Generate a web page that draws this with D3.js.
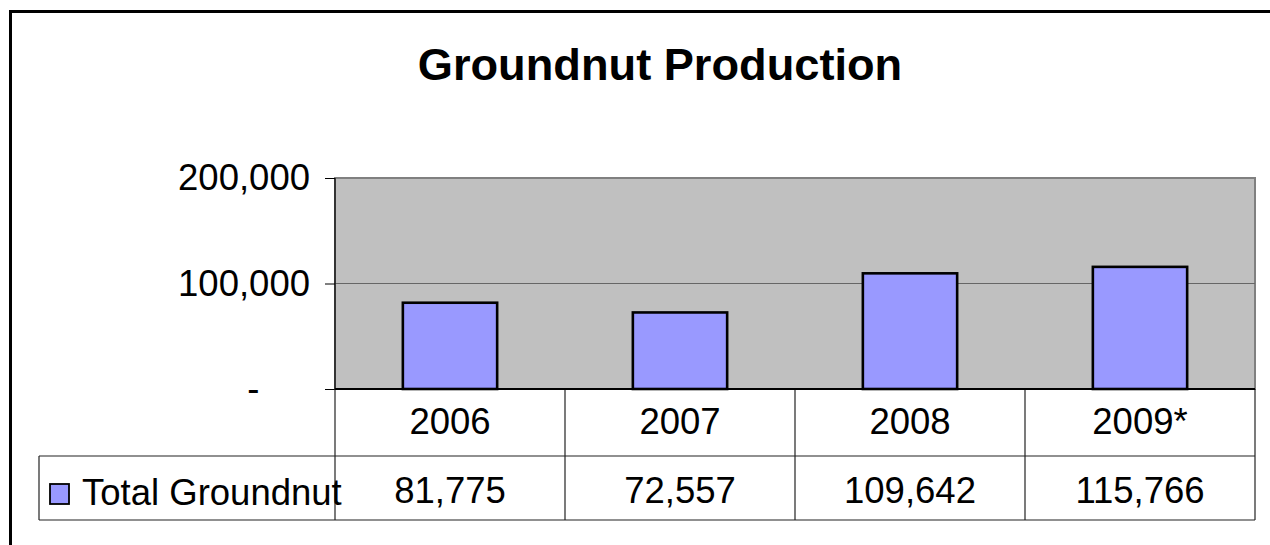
<!DOCTYPE html>
<html>
<head>
<meta charset="utf-8">
<script src="https://cdn.jsdelivr.net/npm/d3@7"></script>
<style>
  body { margin: 0; background: #fff; }
  text { font-family: "Liberation Sans", Arial, sans-serif; }
</style>
</head>
<body>
<script>
// chart data
let years = ["2006", "2007", "2008", "2009*"];
let production = [81775, 72557, 109642, 115766];
let yTicks = [0, 100000, 200000];
let seriesName = "Total Groundnut";

let svg = d3.select("body").append("svg")
	.attr("width", 1270)
	.attr("height", 545);

//plot area box
let plot = { left: 335, right: 1255, top: 178, bottom: 389 };
let table = { left: 39, mid: 456, bottom: 520 };

let x = d3.scaleBand()
	.domain(years)
	.range([plot.left, plot.right])
	.paddingInner(0.59)
	.paddingOuter(0.295);

let y = d3.scaleLinear()
	.domain([0, 200000])
	.range([plot.bottom, plot.top]);

let fmt = d3.format(",");

//outer frame (cut off right and bottom like the picture)
svg.append("path")
	.attr("d", "M10.5,1000 L10.5,11.5 L1300,11.5")
	.attr("fill", "none")
	.attr("stroke", "#000")
	.attr("stroke-width", 3);

//title
svg.append("text")
	.attr("x", 660)
	.attr("y", 80)
	.attr("text-anchor", "middle")
	.attr("font-size", 45.2)
	.attr("font-weight", "bold")
	.text("Groundnut Production");

//grey plot background
svg.append("rect")
	.attr("x", plot.left)
	.attr("y", plot.top)
	.attr("width", plot.right - plot.left)
	.attr("height", plot.bottom - plot.top)
	.attr("fill", "#c0c0c0")
	.attr("stroke", "#808080")
	.attr("stroke-width", 2);

//gridlines (skip 0 and the top)
svg.append("g").selectAll("line")
	.data(yTicks.filter(d => d > 0 && d < 200000))
	.enter().append("line")
	.attr("x1", plot.left)
	.attr("x2", plot.right)
	.attr("y1", d => y(d))
	.attr("y2", d => y(d))
	.attr("stroke", "#666")
	.attr("stroke-width", 1.2);

//bars
svg.append("g").selectAll("rect")
	.data(years)
	.enter().append("rect")
	.attr("x", d => x(d))
	.attr("y", (d, i) => y(production[i]))
	.attr("width", x.bandwidth())
	.attr("height", (d, i) => y(0) - y(production[i]))
	.attr("fill", "#9999ff")
	.attr("stroke", "#000")
	.attr("stroke-width", 2.6);

//y axis
let yAxis = d3.axisLeft(y)
	.tickValues(yTicks)
	.tickSize(10)
	.tickSizeOuter(0)
	.tickPadding(15)
	.tickFormat(d => d === 0 ? "-\u00a0\u00a0\u00a0\u00a0\u00a0" : fmt(d));

let ya = svg.append("g")
	.attr("transform", `translate(${plot.left}, 0)`)
	.call(yAxis);
ya.select(".domain").remove();
ya.selectAll("line").attr("stroke", "#000").attr("stroke-width", 1);
ya.selectAll("text")
	.attr("font-size", 36.5)
	.attr("fill", "#000")
	.style("white-space", "pre");

//data table
let step = x.step();
let half = (step - x.bandwidth()) / 2;
let bounds = years.map(d => x(d) - half);
bounds.push(plot.right);

let tg = svg.append("g")
	.attr("stroke", "#222")
	.attr("stroke-width", 1.2);

tg.selectAll(".vline")
	.data(bounds)
	.enter().append("line")
	.attr("x1", d => d)
	.attr("x2", d => d)
	.attr("y1", plot.bottom)
	.attr("y2", table.bottom);

tg.append("line")
	.attr("x1", table.left).attr("x2", table.left)
	.attr("y1", table.mid).attr("y2", table.bottom);

tg.selectAll(".hline")
	.data([table.mid, table.bottom])
	.enter().append("line")
	.attr("x1", table.left)
	.attr("x2", plot.right)
	.attr("y1", d => d)
	.attr("y2", d => d);

//baseline
svg.append("line")
	.attr("x1", plot.left)
	.attr("x2", plot.right)
	.attr("y1", y(0))
	.attr("y2", y(0))
	.attr("stroke", "#000")
	.attr("stroke-width", 2);

//left axis line
svg.append("line")
	.attr("x1", plot.left)
	.attr("x2", plot.left)
	.attr("y1", plot.top)
	.attr("y2", plot.bottom)
	.attr("stroke", "#000")
	.attr("stroke-width", 1.2);

//header row (years)
svg.append("g").selectAll("text")
	.data(years)
	.enter().append("text")
	.attr("x", d => x(d) + x.bandwidth() / 2)
	.attr("y", 421)
	.attr("dy", "0.35em")
	.attr("text-anchor", "middle")
	.attr("font-size", 36.5)
	.text(d => d);

//value row
svg.append("g").selectAll("text")
	.data(production)
	.enter().append("text")
	.attr("x", (d, i) => x(years[i]) + x.bandwidth() / 2)
	.attr("y", 490)
	.attr("dy", "0.35em")
	.attr("text-anchor", "middle")
	.attr("font-size", 36.5)
	.text(d => fmt(d));

//legend key in the table
svg.append("rect")
	.attr("x", 50)
	.attr("y", 484)
	.attr("width", 19)
	.attr("height", 20)
	.attr("fill", "#9999ff")
	.attr("stroke", "#000")
	.attr("stroke-width", 1.8);

svg.append("text")
	.attr("x", 82)
	.attr("y", 505)
	.attr("font-size", 36.5)
	.text(seriesName);
</script>
</body>
</html>
